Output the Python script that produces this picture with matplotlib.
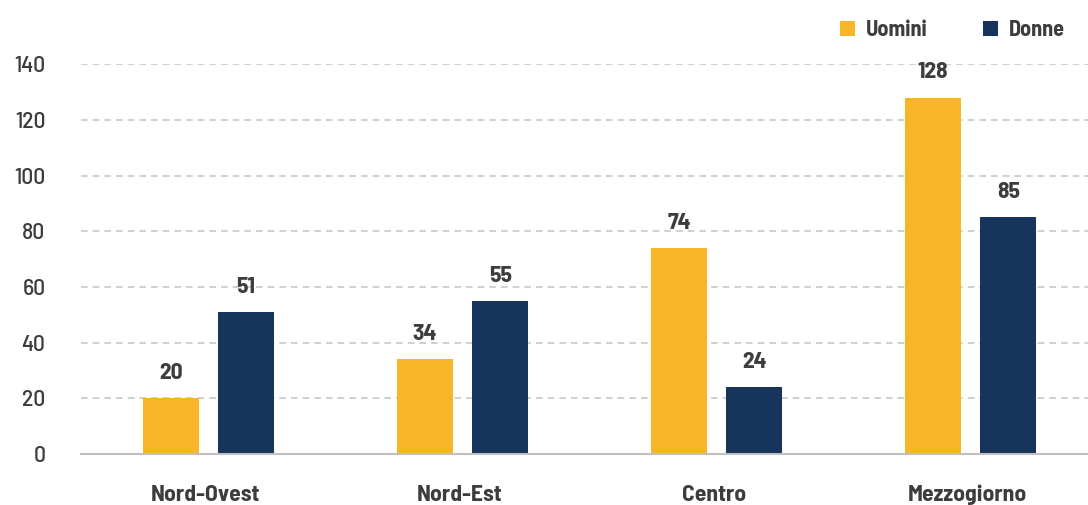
import matplotlib
matplotlib.use("Agg")
import matplotlib.pyplot as plt
import numpy as np

regioni = ["Nord-Ovest", "Nord-Est", "Centro", "Mezzogiorno"]
uomini = [20, 34, 74, 128]
donne = [51, 55, 24, 85]
yticks = [0, 20, 40, 60, 80, 100, 120, 140]

plt.rcParams["font.family"] = ["Barlow Semi Condensed", "DejaVu Sans"]

c_u = "#F8B627"
c_d = "#17345C"
txt = "#3d3d3d"

fig = plt.figure(figsize=(10.88, 5.05), dpi=100)
ax = fig.add_axes([0.0749, 0.101, 0.934, 0.772])

x = np.arange(len(regioni))
w = 0.22
off = 0.148
b1 = ax.bar(x - off, uomini, w, color=c_u, label="Uomini", zorder=3)
b2 = ax.bar(x + off, donne, w, color=c_d, label="Donne", zorder=3)

for bars, vals in ((b1, uomini), (b2, donne)):
    for b, v in zip(bars, vals):
        ax.annotate(str(v), (b.get_x() + b.get_width() / 2, v), xytext=(0, 11),
                    textcoords="offset points", ha="center", va="bottom",
                    fontsize=17, fontweight="bold", color=txt)

ax.set_xlim(-0.5, 3.5)
ax.set_ylim(0, 140)
ax.set_yticks(yticks)
ax.set_yticklabels([str(t) for t in yticks], fontsize=17, fontweight="medium", color=txt)
ax.set_xticks(x - 0.012)
ax.set_xticklabels(regioni, fontsize=17, fontweight="bold", color=txt)
ax.tick_params(axis="both", length=0)
ax.tick_params(axis="y", pad=26)
ax.tick_params(axis="x", pad=22)

ax.grid(axis="y", color="#c8c8c8", linestyle=(0, (4, 3)), linewidth=1.2, zorder=0)
ax.set_axisbelow(True)
for s in ("top", "right", "left"):
    ax.spines[s].set_visible(False)
ax.spines["bottom"].set_color("#c0c0c0")
ax.spines["bottom"].set_linewidth(1.5)
ax.spines["bottom"].set_zorder(4)

leg = fig.legend(handles=[b1, b2], labels=["Uomini", "Donne"], loc="upper right",
                 bbox_to_anchor=(0.997, 1.0), ncol=2, frameon=False,
                 prop={"size": 16, "weight": "bold"}, handlelength=0.65,
                 handleheight=0.65, handletextpad=0.5, columnspacing=2.5)
for t in leg.get_texts():
    t.set_color(txt)

fig.savefig("out.png", dpi=100)
